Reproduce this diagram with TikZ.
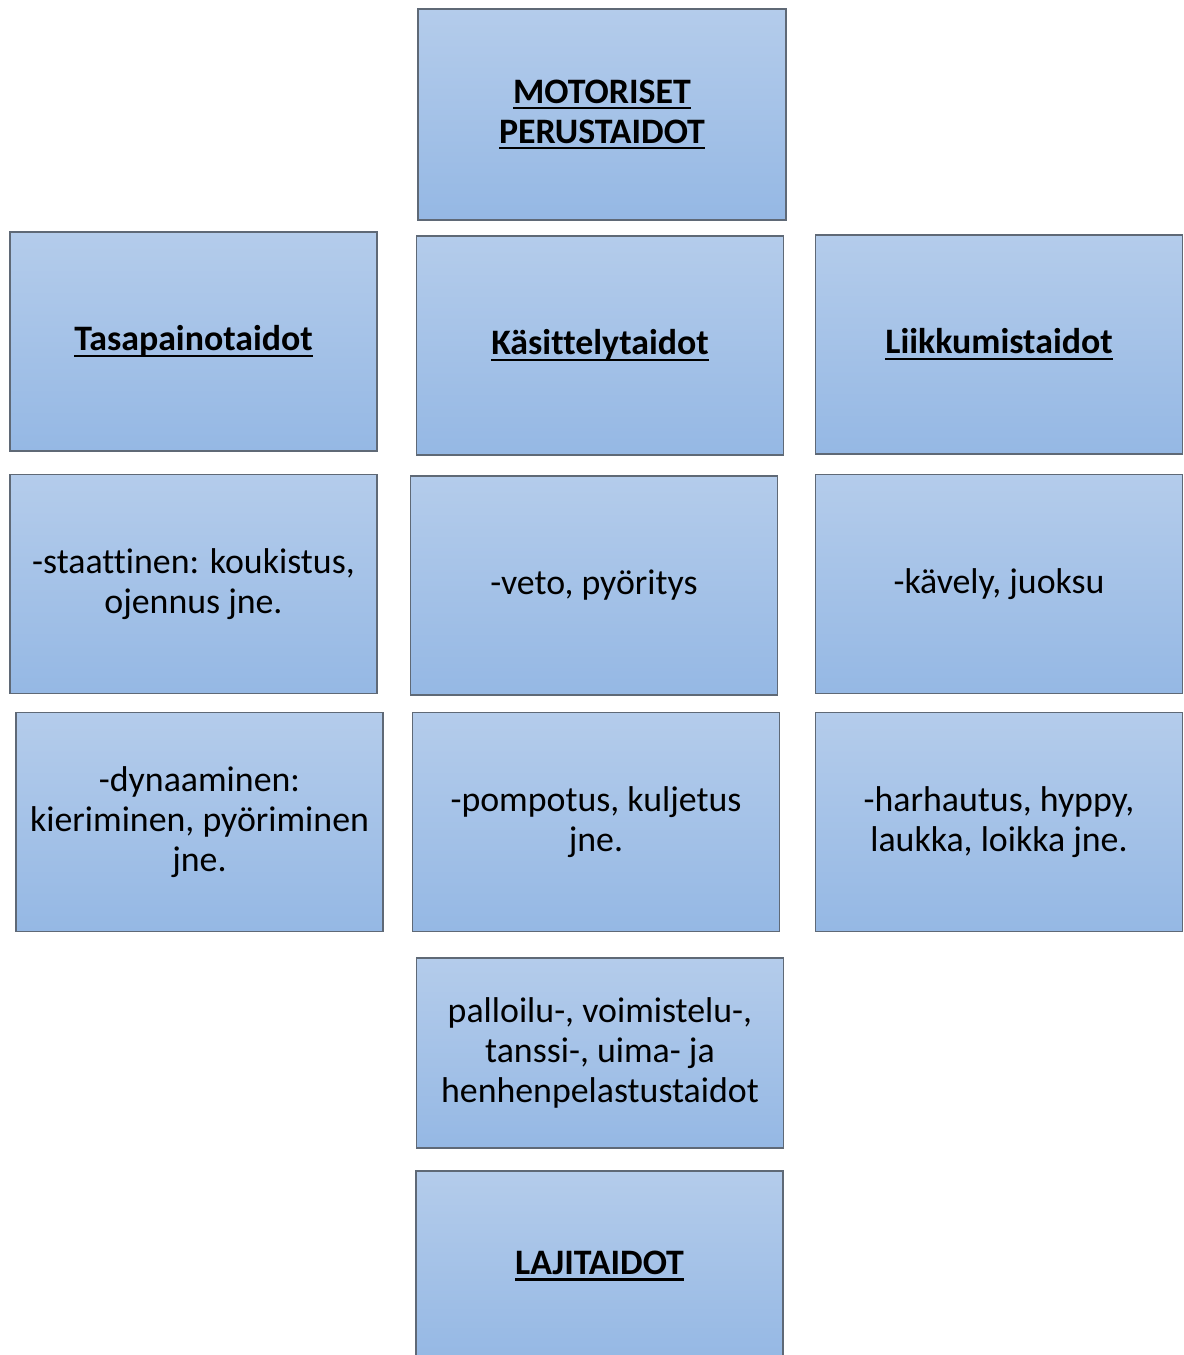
\documentclass[tikz,border=0pt]{standalone}
\usepackage{fontspec}
\setmainfont{Carlito}[Ligatures=NoCommon]
\usetikzlibrary{positioning}
\definecolor{boxtop}{RGB}{180,204,235}
\definecolor{boxbot}{RGB}{149,184,228}
\definecolor{boxline}{RGB}{95,105,118}
\newsavebox{\headbox}
\newcommand{\head}[1]{\sbox{\headbox}{\textbf{#1}}\leavevmode\rlap{\rule[-3.6pt]{\wd\headbox}{1.4pt}}\usebox{\headbox}}
\tikzset{
  skill/.style={rectangle,draw=boxline,line width=0.7pt,top color=boxtop,bottom color=boxbot,
    minimum width=7.34cm,minimum height=4.38cm,inner sep=2pt,align=center,
    font=\fontsize{20.4}{22.7}\selectfont},
  short/.style={minimum height=3.8cm}
}
\begin{document}
\begin{tikzpicture}[x=0.02cm,y=-0.02cm]
  \useasboundingbox (0,0) rectangle (1183,1355);
  \clip (0,0) rectangle (1183,1355);
  % top
  \node[skill,minimum width=7.36cm,minimum height=4.22cm] (motor) at (602,114.5) {\head{MOTORISET}\\\head{PERUSTAIDOT}};
  % skill groups
  \node[skill] (tasa) at (193.5,341.5) {\head{Tasapainotaidot}};
  \node[skill] (kasi) at (600,345.5) {\head{Käsittelytaidot}};
  \node[skill] (liik) at (999,344.5) {\head{Liikkumistaidot}};
  % examples
  \node[skill] (staat) at (193.5,584) {-staattinen: koukistus,\\ojennus jne.};
  \node[skill] (veto) at (594,585.5) {-veto, pyöritys};
  \node[skill] (kavely) at (999,584) {-kävely, juoksu};
  \node[skill] (dyn) at (199.5,822) {-dynaaminen:\\kieriminen, pyöriminen\\jne.};
  \node[skill] (pomp) at (596,822) {-pompotus, kuljetus\\jne.};
  \node[skill] (harh) at (999,822) {-harhautus, hyppy,\\laukka, loikka jne.};
  % sports
  \node[skill,short] (pallo) at (600,1053) {palloilu-, voimistelu-,\\tanssi-, uima- ja\\henhenpelastustaidot};
  \node[skill,short] (laji) at (599.5,1266) {\head{LAJITAIDOT}};
\end{tikzpicture}
\end{document}
